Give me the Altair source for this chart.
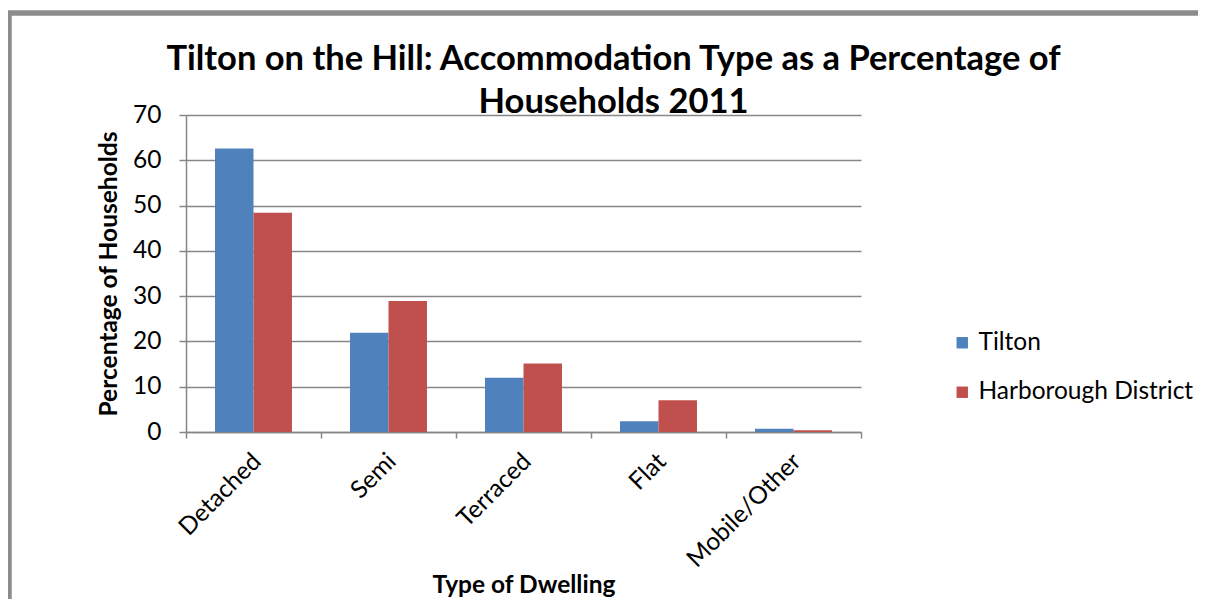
import altair as alt
import pandas as pd

categories = ["Detached", "Semi", "Terraced", "Flat", "Mobile/Other"]
series_names = ["Tilton", "Harborough District"]
tilton_values = [62.6, 21.9, 12.0, 2.4, 0.7]
harborough_values = [48.4, 28.9, 15.1, 7.0, 0.4]
y_ticks = [0, 10, 20, 30, 40, 50, 60, 70]
colors = ["#4F81BD", "#C0504D"]

rows = []
for c, t, h in zip(categories, tilton_values, harborough_values):
    rows.append({"type": c, "series": series_names[0], "value": t})
    rows.append({"type": c, "series": series_names[1], "value": h})
df = pd.DataFrame(rows)

FONT = "Lato"
GRAY = "#868686"
FS = 24.5

bars = alt.Chart(df).mark_bar().encode(
    x=alt.X(
        "type:N",
        sort=categories,
        scale=alt.Scale(paddingInner=0, paddingOuter=0),
        axis=alt.Axis(
            title="Type of Dwelling",
            labelAngle=-45,
            labelAlign="right",
            labelBaseline="top",
            labelOffset=-5,
            tickBand="extent",
            tickSize=6,
            labelPadding=11,
            titleY=160,
            titleBaseline="alphabetic",
            grid=False,
        ),
    ),
    xOffset=alt.XOffset(
        "series:N", sort=series_names,
        scale=alt.Scale(paddingInner=0, paddingOuter=0.754),
    ),
    y=alt.Y(
        "value:Q",
        scale=alt.Scale(domain=[0, 70], nice=False),
        axis=alt.Axis(
            title="Percentage of Households",
            values=y_ticks,
            tickSize=7,
            labelPadding=18,
            titlePadding=11,
            grid=True,
        ),
    ),
    color=alt.Color(
        "series:N",
        sort=series_names,
        scale=alt.Scale(domain=series_names, range=colors),
        legend=alt.Legend(
            title=None,
            orient="none",
            legendX=764,
            legendY=215.5,
            symbolType="square",
            symbolSize=130,
            symbolStrokeWidth=0,
            labelFontSize=FS,
            labelFont=FONT,
            labelColor="black",
            labelOffset=4,
            labelLimit=400,
            rowPadding=24.5,
        ),
    ),
)

frame = alt.Chart(pd.DataFrame({"f": [0]})).mark_rect(
    fill=None, stroke="#8C8C8C", strokeWidth=5.5
).encode(
    x=alt.value(-177),
    x2=alt.value(1400),
    y=alt.value(-102),
    y2=alt.value(800),
)

chart = (
    alt.layer(frame, bars)
    .properties(
        width=675,
        height=317,
        autosize=alt.AutoSizeParams(type="none"),
        padding={"left": 178, "top": 107, "right": 337, "bottom": 167},
        title=alt.TitleParams(
            text=[
                "Tilton on the Hill: Accommodation Type as a Percentage of",
                "Households 2011",
            ],
            font=FONT,
            fontSize=34.5,
            fontWeight="bold",
            color="black",
            anchor="middle",
            dx=90,
            dy=110,
            lineHeight=43,
            offset=0,
        ),
    )
    .configure_view(strokeWidth=0)
    .configure_axis(
        labelFont=FONT,
        labelFontSize=FS,
        labelColor="black",
        titleFont=FONT,
        titleFontSize=FS,
        titleFontWeight="bold",
        titleColor="black",
        domainColor=GRAY,
        domainWidth=1.5,
        tickColor=GRAY,
        tickWidth=1.5,
        gridColor=GRAY,
        gridWidth=1.5,
    )
)

chart.save("out.html", embed_options={"renderer": "svg", "actions": False})
